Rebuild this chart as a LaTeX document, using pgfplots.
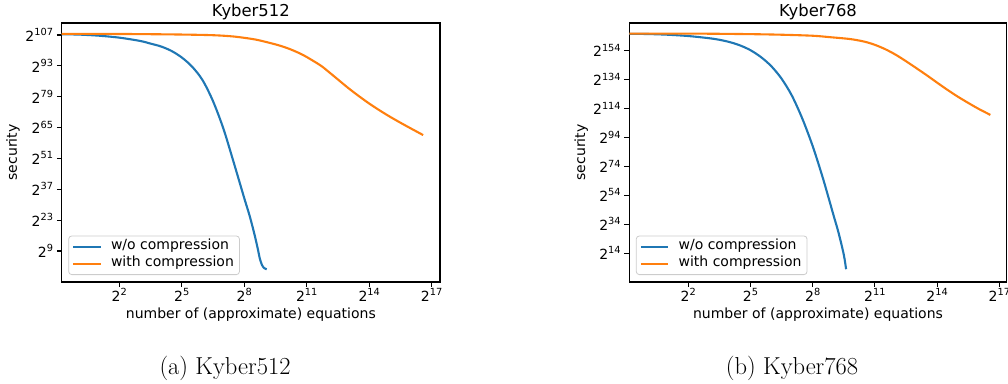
\documentclass[border=0pt]{standalone}
\usepackage{fontspec}
\usepackage{pgfplots}
\pgfplotsset{compat=1.18}
\newfontfamily\dv{DejaVu Sans}
\newcommand\fs{\dv\fontsize{14}{16.8}\selectfont}
\newcommand\tp[1]{2\raisebox{0.41em}{\fontsize{9.8}{11}\selectfont #1}}
\definecolor{tabblue}{HTML}{1F77B4}
\definecolor{taborange}{HTML}{FF7F0E}
\pgfplotsset{
  kyb/.style={
    scale only axis, anchor=south west, height=259pt,
    axis line style={black, line width=1.1pt},
    every tick/.style={black, line width=1.1pt},
    tick align=outside, major tick length=4.9pt,
    xtick pos=left, ytick pos=left,
    font=\fs,
    xtick={2,5,8,11,14,17},
    xticklabels={\tp{2},\tp{5},\tp{8},\tp{11},\tp{14},\tp{17}},
    xticklabel style={anchor=base, inner sep=0pt, yshift=-14.1pt},
    yticklabel style={anchor=base east, inner sep=0pt, xshift=-3.5pt, yshift=-6.3pt},
    every axis title shift=0pt,
    title style={font=\dv\fontsize{16.4}{19}\selectfont, at={(axis description cs:0.5,1)}, anchor=base, yshift=6.3pt},
    xlabel={number of (approximate) equations},
    ylabel={security},
    xlabel style={at={(axis description cs:0.5,0)}, anchor=base, yshift=-36.5pt},
    legend cell align=left,
    legend image code/.code={\draw[#1] (0pt,0pt) -- (27.4pt,0pt);},
    legend style={at={(axis description cs:0,0)}, anchor=south west, xshift=6.6pt, yshift=7pt,
      draw=black!20, line width=0.8pt, rounded corners=3pt, fill=white, fill opacity=0.8, text opacity=1,
      inner xsep=3.5pt, inner ysep=4pt, row sep=2.6pt,
      nodes={inner sep=2pt, text height=0.76em, text depth=0.24em, font=\fs},
      /tikz/every odd column/.append style={column sep=7.3pt}},
    every axis plot/.append style={line width=2.1pt, no marks, smooth},
  }
}
\begin{document}
\begin{tikzpicture}
\path[use as bounding box] (0pt,0pt) rectangle (1008pt,383pt);
\begin{axis}[kyb, at={(61.7pt,101pt)}, width=378.3pt,
  xmin=-0.765, xmax=17.40, ymin=-5.07, ymax=112.44,
  ytick={9,23,37,51,65,79,93,107},
  yticklabels={\tp{9},\tp{23},\tp{37},\tp{51},\tp{65},\tp{79},\tp{93},\tp{107}},
  title={Kyber512},
  ylabel style={at={(axis description cs:-0.1187,0.5)}, anchor=base}]
\addplot[tabblue] coordinates {
(-0.765,107.3) (0,107.2) (1,106.7) (2,105.8) (3,104.3) (3.5,103.1) (4.0,101.8)
(4.5,99.8) (5.0,96.8) (5.5,92.6) (6.0,86.5) (6.5,77.0) (7.0,64.5) (7.5,49.0)
(8.0,33.0) (8.27,24.6) (8.5,16.2) (8.65,10.0) (8.75,5.5) (8.85,2.7) (8.95,1.3) (9.08,0.7)};
\addlegendentry{w/o compression}
\addplot[taborange] coordinates {
(-0.765,107.5) (1,107.5) (3,107.4) (5,107.2) (6.5,106.9) (7.5,106.3) (8.5,105.0)
(9.23,103.4) (9.7,102.2) (10.19,100.6) (10.83,97.9) (11.63,93.4) (12.0,90.7)
(12.5,86.8) (13.0,82.9) (13.5,79.3) (14.0,75.9) (14.5,72.8) (15.0,69.9) (15.5,67.2)
(16.0,64.6) (16.59,61.6)};
\addlegendentry{with compression}
\end{axis}
\begin{axis}[kyb, at={(629.3pt,101pt)}, width=377.4pt,
  xmin=-0.846, xmax=17.357, ymin=-5.83, ymax=173.1,
  ytick={14,34,54,74,94,114,134,154},
  yticklabels={\tp{14},\tp{34},\tp{54},\tp{74},\tp{94},\tp{114},\tp{134},\tp{154}},
  title={Kyber768},
  ylabel style={at={(axis description cs:-0.1174,0.5)}, anchor=base}]
\addplot[tabblue] coordinates {
(-0.846,165.6) (0,165.5) (1,165.0) (2,164.1) (3,162.6) (3.5,161.5) (4.0,159.9)
(4.5,157.6) (5.0,154.3) (5.5,149.6) (6.0,143.3) (6.5,134.6) (7.0,122.8) (7.5,107.0)
(8.0,88.0) (8.5,65.5) (9.0,40.5) (9.25,28.0) (9.5,13.0) (9.61,3.0)};
\addlegendentry{w/o compression}
\addplot[taborange] coordinates {
(-0.846,165.8) (1,165.8) (3,165.7) (5,165.4) (6.5,165.0) (8,164.3) (8.84,163.3)
(9.81,162.0) (10.5,160.2) (11.0,158.0) (11.5,155.0) (12.0,151.2) (12.5,146.7)
(13.0,141.9) (13.5,137.0) (14.0,131.9) (14.5,126.9) (15.0,122.2) (15.5,117.9)
(16.0,113.8) (16.57,109.6)};
\addlegendentry{with compression}
\end{axis}
\node[font=\fontsize{24.5}{29}\selectfont, anchor=base] at (225pt,8.7pt) {(a) Kyber512};
\node[font=\fontsize{24.5}{29}\selectfont, anchor=base] at (792pt,8.7pt) {(b) Kyber768};
\end{tikzpicture}
\end{document}
